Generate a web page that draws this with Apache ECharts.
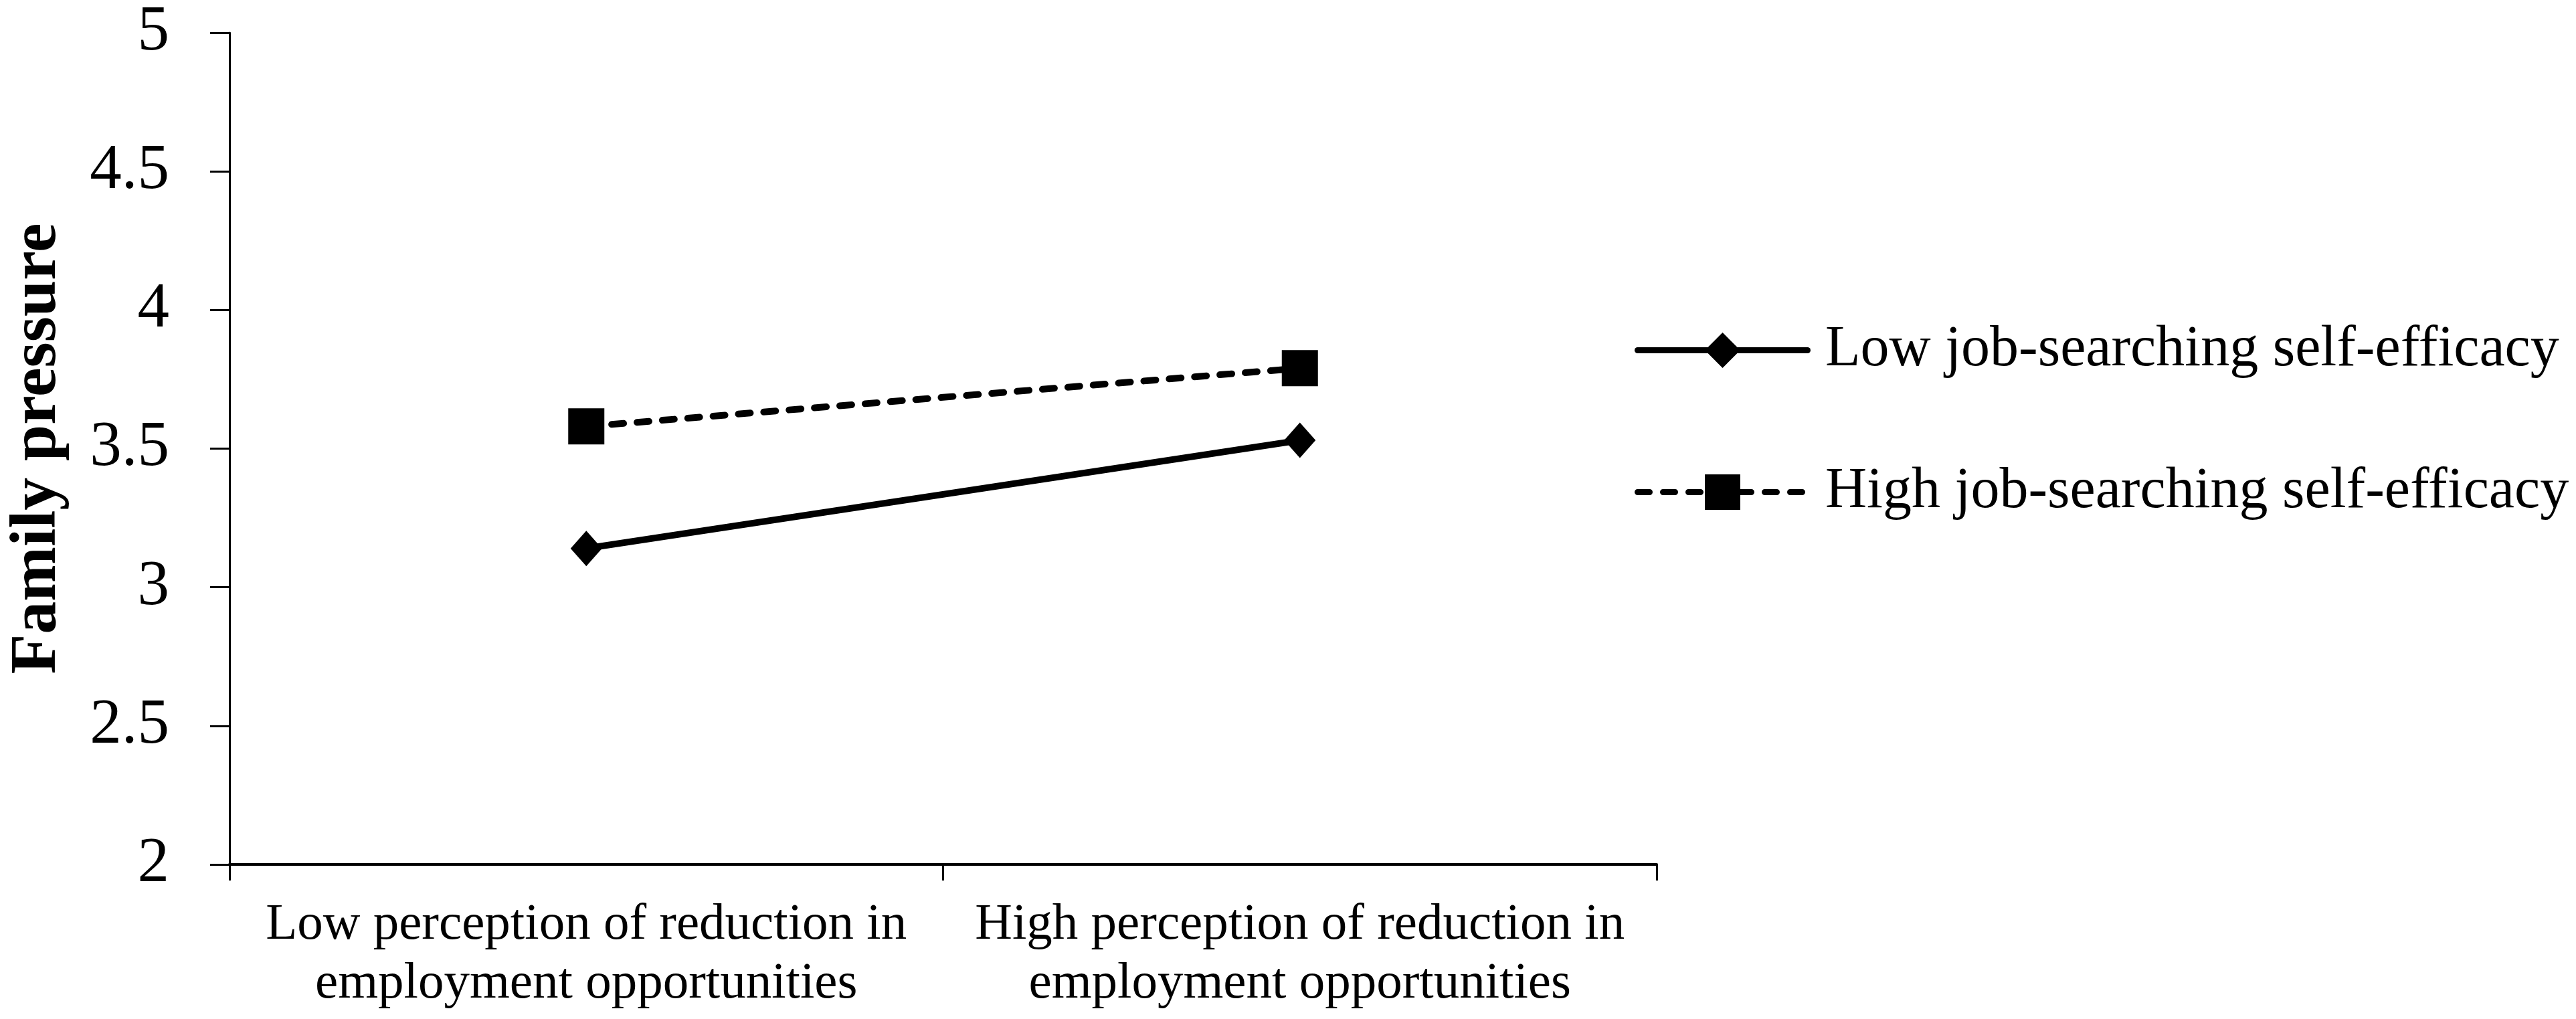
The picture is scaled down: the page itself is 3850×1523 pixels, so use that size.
<!DOCTYPE html>
<html>
<head>
<meta charset="UTF-8">
<title>Family pressure</title>
<script type="text/javascript" src="https://cdn.jsdelivr.net/npm/echarts@6/dist/echarts.min.js"></script>
<style>
	html, body { margin: 0; padding: 0; background: #fff; }
	#main { width: 3850px; height: 1523px; }
</style>
</head>
<body>
	<div id="main"></div>
	<script type="text/javascript">
		var categories = [
			'Low perception of reduction in\nemployment opportunities',
			'High perception of reduction in\nemployment opportunities'
		];
		var lowEfficacy = [3.14, 3.53];
		var highEfficacy = [3.58, 3.79];
		var seriesNames = ['Low job-searching self-efficacy', 'High job-searching self-efficacy'];

		var serif = '"Liberation Serif", "Times New Roman", serif';

		var myChart = echarts.init(document.getElementById('main'));
		var option = {
			backgroundColor: '#fff',
			animation: false,
			grid: {
				left: 336,
				right: 1374,
				top: 49,
				bottom: 231
			},
			legend: {
				orient: 'vertical',
				left: 2438,
				top: 475,
				itemWidth: 254,
				itemHeight: 66,
				itemGap: 125,
				formatter: function (name) { return ' ' + name; },
				lineStyle: { width: 9, cap: 'round' },
				textStyle: {
					fontFamily: serif,
					fontSize: 86,
					lineHeight: 87,
					color: '#000'
				},
				data: seriesNames
			},
			xAxis: {
				type: 'category',
				data: categories,
				boundaryGap: true,
				axisLine: { lineStyle: { color: '#000', width: 4 } },
				axisTick: { show: true, length: 24, lineStyle: { color: '#000', width: 3 } },
				axisLabel: {
					margin: 47,
					fontFamily: serif,
					fontSize: 77,
					lineHeight: 88,
					color: '#000',
					interval: 0
				},
				splitLine: { show: false }
			},
			yAxis: {
				type: 'value',
				min: 2,
				max: 5,
				interval: 0.5,
				name: 'Family pressure',
				nameLocation: 'middle',
				nameGap: 237,
				nameTextStyle: {
					fontFamily: serif,
					fontSize: 98,
					fontWeight: 'bold',
					color: '#000'
				},
				axisLine: { show: true, lineStyle: { color: '#000', width: 3 } },
				axisTick: { show: true, length: 29, lineStyle: { color: '#000', width: 3 } },
				axisLabel: {
					margin: 90,
					fontFamily: serif,
					fontSize: 95,
					color: '#000'
				},
				splitLine: { show: false }
			},
			series: [{
				name: seriesNames[0],
				type: 'line',
				data: lowEfficacy,
				symbol: 'diamond',
				symbolSize: [47, 53],
				itemStyle: { color: '#000' },
				lineStyle: { color: '#000', width: 10, cap: 'round' }
			}, {
				name: seriesNames[1],
				type: 'line',
				data: highEfficacy,
				symbol: 'rect',
				symbolSize: 54,
				itemStyle: { color: '#000' },
				lineStyle: { color: '#000', width: 10, type: [18, 20], cap: 'round' }
			}]
		};
		myChart.setOption(option);
	</script>
</body>
</html>
